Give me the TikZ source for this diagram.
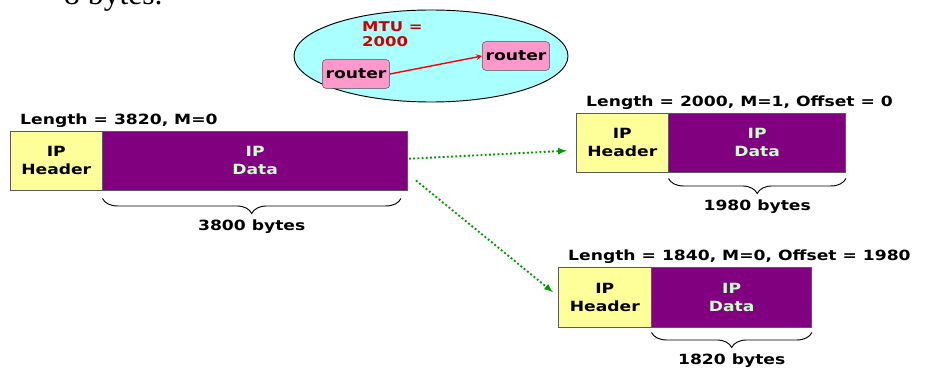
\documentclass[tikz,border=0pt]{standalone}
\usepackage{fontspec}
\setmainfont{DejaVu Sans}[FakeStretch=1.22]
\newfontfamily\coupe{Liberation Serif}
\usetikzlibrary{calc,shapes.geometric,decorations.pathreplacing}
\definecolor{jaune_entete}{HTML}{FFFF99}
\definecolor{violet_donnees}{HTML}{800080}
\definecolor{vert_texte}{HTML}{CCFFCC}
\definecolor{cyan_zone}{HTML}{AAFFFF}
\definecolor{rose_routeur}{HTML}{FF99CC}
\definecolor{rouge_mtu}{HTML}{CC0000}
\definecolor{vert_fleche}{HTML}{009900}

\begin{document}
\begin{tikzpicture}[x=0.03cm,y=-0.03cm]
        \tikzstyle{entete} = [rectangle, draw=gray!70!black, fill=jaune_entete, minimum width=2.76cm, minimum height=1.77cm, inner sep=0pt, align=center, anchor=north west, font=\bfseries\fontsize{12}{15.5}\selectfont]
        \tikzstyle{donnees} = [rectangle, draw=gray!70!black, fill=violet_donnees, text=vert_texte, minimum height=1.77cm, inner sep=0pt, align=center, anchor=west, font=\bfseries\fontsize{12}{15.5}\selectfont]
        \tikzstyle{etiquette} = [anchor=south west, inner sep=0pt, font=\bfseries\fontsize{12}{14}\selectfont]
        \tikzstyle{routeur} = [rectangle, rounded corners=3pt, draw=gray!60!black, fill=rose_routeur, minimum width=2.02cm, minimum height=0.86cm, inner sep=0pt, font=\bfseries\fontsize{12}{14}\selectfont]
        \tikzstyle{accolade} = [decorate, decoration={brace, mirror, amplitude=0.45cm}, thick]
        \tikzstyle{fleche_verte} = [-latex, vert_fleche, dotted, line width=1.6pt]
        \useasboundingbox (0,0) rectangle (925,371);

        \node (texte_coupe) [anchor=base west, inner sep=0pt, font=\coupe\fontsize{27}{30}\selectfont] at (64,5) {8 bytes.};

        \node (zone_mtu) [ellipse, draw, thick, fill=cyan_zone, minimum width=8.22cm, minimum height=2.76cm] at (431,56) {};
        \node (mtu) [anchor=north west, align=left, inner sep=0pt, text=rouge_mtu, font=\bfseries\fontsize{11.5}{13}\selectfont] at (362,21) {MTU =\\2000};
        \node (routeur_a) [routeur] at (356,74) {router};
        \node (routeur_b) [routeur] at (516,56) {router};
        \draw[-stealth, red, line width=1.2pt] (routeur_a.east) -- (routeur_b.west);

        \node (entete_orig) [entete] at (10,131) {IP\\Header};
        \node (donnees_orig) [donnees, minimum width=9.15cm] at (entete_orig.east) {IP\\Data};
        \node (long_orig) [etiquette] at ($(entete_orig.north west)+(10,-3)$) {Length = 3820, M=0};
        \draw[accolade] ($(donnees_orig.south west)+(0,8)$) -- ($(donnees_orig.south east)+(-7,8)$) node (octets_orig) [midway, below=0.5cm, font=\bfseries\fontsize{12}{14}\selectfont] {3800 bytes};

        \node (entete_frag1) [entete] at (576,113) {IP\\Header};
        \node (donnees_frag1) [donnees, minimum width=5.31cm] at (entete_frag1.east) {IP\\Data};
        \node (long_frag1) [etiquette] at ($(entete_frag1.north west)+(10,-3)$) {Length = 2000, M=1, Offset = 0};
        \draw[accolade] ($(donnees_frag1.south west)+(0,6)$) -- ($(donnees_frag1.south east)+(0,6)$) node (octets_frag1) [midway, below=0.5cm, font=\bfseries\fontsize{12}{14}\selectfont] {1980 bytes};

        \node (entete_frag2) [entete, minimum width=2.79cm, minimum height=1.8cm] at (558,267) {IP\\Header};
        \node (donnees_frag2) [donnees, minimum width=4.8cm, minimum height=1.8cm] at (entete_frag2.east) {IP\\Data};
        \node (long_frag2) [etiquette] at ($(entete_frag2.north west)+(10,-3)$) {Length = 1840, M=0, Offset = 1980};
        \draw[accolade] ($(donnees_frag2.south west)+(0,5)$) -- ($(donnees_frag2.south east)+(0,5)$) node (octets_frag2) [midway, below=0.5cm, font=\bfseries\fontsize{12}{14}\selectfont] {1820 bytes};

        \draw[fleche_verte] ($(donnees_orig.east)+(1,-2)$) -- ($(entete_frag1.west)+(-9,8)$);
        \draw[fleche_verte] ($(donnees_orig.south east)+(8,-10)$) -- ($(entete_frag2.west)+(-5,-5)$);
\end{tikzpicture}
\end{document}
